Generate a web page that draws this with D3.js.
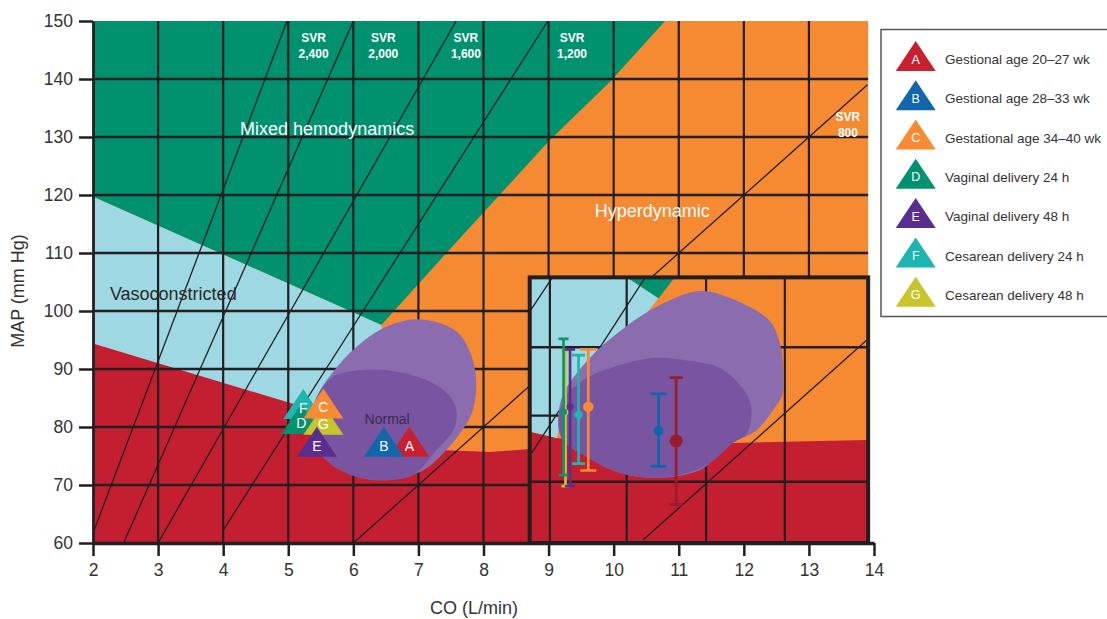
<!DOCTYPE html>
<html>
<head>
<meta charset="utf-8">
<script src="https://cdn.jsdelivr.net/npm/d3@7"></script>
<style>
  body { margin: 0; background: #fff; }
  svg { display: block; font-family: "Liberation Sans", Arial, Helvetica, sans-serif; }
</style>
</head>
<body>
<div id="grafico"></div>
<script>
// ejes
const coTicks = [2, 3, 4, 5, 6, 7, 8, 9, 10, 11, 12, 13, 14];
const mapTicks = [60, 70, 80, 90, 100, 110, 120, 130, 140, 150];
const gridCO = [3, 4, 5, 6, 7, 8, 9, 10, 11, 12, 13];
const gridMAP = [70, 80, 90, 100, 110, 120, 130, 140];
const plotRight = 13.91;

// grupos
const groupIds = ["A", "B", "C", "D", "E", "F", "G"];
const groupNames = [
    "Gestional age 20\u201327 wk",
    "Gestional age 28\u201333 wk",
    "Gestational age 34\u201340 wk",
    "Vaginal delivery 24 h",
    "Vaginal delivery 48 h",
    "Cesarean delivery 24 h",
    "Cesarean delivery 48 h"
];
const markerCO  = [6.86, 6.47, 5.54, 5.20, 5.44, 5.23, 5.54];
const markerMAP = [76.6, 76.6, 83.2, 80.5, 76.6, 83.1, 80.4];

// barras del recuadro
const barCO   = [10.96, 10.69, 9.61, 9.23, 9.33, 9.46, 9.26];
const barMean = [77.6, 79.3, 83.5, 82.6, 83.5, 82.1, 82.5];
const barLow  = [66.6, 73.2, 72.5, 71.7, 69.8, 73.7, 69.8];
const barHigh = [88.5, 85.7, 93.4, 95.2, 93.4, 92.4, 93.2];

// zonas
const greenZone = [[2, 150], [10.79, 150], [9.94, 139.5], [9.02, 129.5], [7.43, 110], [6.43, 97.6], [2, 119.7]];
const blueZone = [[2, 119.7], [6.43, 97.6], [6.6, 80], [2, 80]];
const redZone = [[2, 94.4], [7.43, 76.0], [8.1, 75.7], [8.71, 76.2], [8.71, 60], [2, 60]];

// lineas SVR
const svrLines = [[2.0, 61.7, 4.98, 150], [2.47, 60, 6.0, 150], [3.0, 60, 7.58, 150], [4.0, 62.2, 8.99, 150], [6.0, 60, 13.9, 139]];
const svrLabelText = ["2,400", "2,000", "1,600", "1,200", "800"];
const svrLabelCO = [5.39, 6.46, 7.73, 9.36, 13.6];
const svrLabelMAP = [147.0, 147.0, 147.0, 147.0, 133.5];

// zona normal
const normalOuter = [[7.02, 98.57], [7.59, 96.43], [7.82, 92.12], [7.89, 86.95], [7.82, 82.36], [7.64, 78.91], [7.43, 76.03], [7.08, 72.59], [6.56, 70.86], [6.05, 71.43], [5.64, 73.74], [5.39, 77.19], [5.33, 80.64], [5.44, 85.22], [5.69, 89.53], [6.05, 93.84], [6.51, 97.29]];
const normalInner = [[5.44, 85.22], [5.69, 88.67], [6.15, 89.83], [6.67, 89.53], [7.18, 87.81], [7.49, 85.22], [7.59, 82.36], [7.54, 79.48], [7.28, 76.03], [6.92, 71.72], [6.56, 70.86], [6.05, 71.43], [5.64, 73.74], [5.39, 77.19], [5.33, 80.64]];

// recuadro
const insetBox = [8.71, 13.91, 60, 105.8];
const insetBlue = [[8.71, 105.8], [10.20, 105.8], [10.69, 102.2], [9.18, 81.2], [9.13, 78.05], [8.71, 79.2]];
const insetGreen = [[10.20, 105.8], [10.94, 105.8], [10.69, 102.2]];
const insetRed = [[8.71, 79.2], [9.13, 78.05], [11.83, 77.24], [13.91, 77.76], [13.91, 60], [8.71, 60]];
const insetGridCO = [9.02, 10.20, 11.42, 12.63];
const insetGridMAP = [93.74, 70.57];
const insetShortMAP = [81.95];
const insetDiag = [[8.71, 99.9, 9.06, 105.8], [10.48, 105.7, 8.74, 75.5], [10.45, 60.5, 13.89, 95.0]];
const insetOuter = [[11.33, 103.45], [11.79, 102.24], [12.40, 98.28], [12.56, 94.14], [12.60, 90.69], [12.59, 85.52], [12.45, 82.93], [12.20, 79.48], [11.83, 77.24], [11.53, 74.31], [11.33, 72.59], [10.71, 71.21], [10.10, 72.07], [9.59, 74.83], [9.22, 77.76], [9.15, 81.21], [9.22, 85.52], [9.59, 91.38], [10.10, 96.55], [10.71, 101.03]];
const insetInner = [[9.15, 81.21], [9.28, 85.52], [9.59, 88.45], [10.10, 90.69], [10.60, 91.90], [11.17, 91.38], [11.63, 90.17], [11.94, 87.24], [12.11, 83.79], [12.05, 78.97], [11.83, 77.24], [11.48, 73.79], [11.17, 72.24], [10.71, 71.21], [10.10, 72.07], [9.59, 74.83], [9.22, 77.76]];

// estilos
const colores = {
    naranja: "#F68A33", verde: "#00926F", celeste: "#9ED8E2", rojo: "#C31F31",
    moradoClaro: "#8B6CAF", moradoOscuro: "#7955A1", linea: "#231F20"
};
const groupColors = ["#C8202F", "#1166AC", "#F68B33", "#00926F", "#5A2D90", "#1DB5B0", "#C8C52B"];
const barColors = ["#9A1B2C", "#0E67AD", "#F68B33", "#10926F", "#5A2D91", "#1DB6B0", "#C9C62C"];
const capHalf = [6.5, 8, 8, 5, 5, 6.5, 4];
const dotR = [6.5, 5, 5.3, 3.5, 3.5, 4.3, 3];

const ancho = 1107, alto = 619;
const x = d3.scaleLinear().domain([2, 14]).range([93, 874]);
const y = d3.scaleLinear().domain([60, 150]).range([543, 21]);

const $svg = d3.select("#grafico").append("svg")
    .attr("width", ancho).attr("height", alto);

const poly = d3.line().x(d => x(d[0])).y(d => y(d[1]));
const blob = d3.line().x(d => x(d[0])).y(d => y(d[1])).curve(d3.curveCatmullRomClosed.alpha(0.5));
const closed = pts => poly(pts) + "Z";

const triangulo = (cx, cy, w, h) =>
    `M${cx},${cy - 2 * h / 3}L${cx + w / 2},${cy + h / 3}L${cx - w / 2},${cy + h / 3}Z`;

// fondo principal
const fondo = $svg.append("g");
fondo.append("rect")
    .attr("x", x(2)).attr("y", y(150))
    .attr("width", x(plotRight) - x(2)).attr("height", y(60) - y(150))
    .attr("fill", colores.naranja);
fondo.append("path").attr("d", closed(greenZone)).attr("fill", colores.verde);
fondo.append("path").attr("d", closed(blueZone)).attr("fill", colores.celeste);
fondo.append("path").attr("d", closed(redZone)).attr("fill", colores.rojo);

// grilla
const grilla = $svg.append("g").attr("stroke", colores.linea);
grilla.selectAll(".v").data(gridCO).join("line")
    .attr("x1", d => x(d)).attr("x2", d => x(d))
    .attr("y1", y(60)).attr("y2", y(150))
    .attr("stroke-width", 2.2);
grilla.selectAll(".h").data(gridMAP).join("line")
    .attr("x1", x(2)).attr("x2", x(plotRight))
    .attr("y1", d => y(d)).attr("y2", d => y(d))
    .attr("stroke-width", 2.4);
grilla.selectAll(".svr").data(svrLines).join("line")
    .attr("x1", d => x(d[0])).attr("y1", d => y(d[1]))
    .attr("x2", d => x(d[2])).attr("y2", d => y(d[3]))
    .attr("stroke-width", 1.3);

// zona normal
$svg.append("path").attr("d", blob(normalOuter)).attr("fill", colores.moradoClaro);
$svg.append("path").attr("d", blob(normalInner)).attr("fill", colores.moradoOscuro);

$svg.append("text")
    .attr("x", x(6.52)).attr("y", y(81.4))
    .attr("text-anchor", "middle").attr("dominant-baseline", "central")
    .attr("font-size", 14).attr("fill", "#3a2a52")
    .text("Normal");

// triangulos (primero las formas, luego las letras)
const ordenTri = [0, 1, 5, 3, 6, 2, 4];
const tri = $svg.append("g");
ordenTri.forEach(i => {
    tri.append("path")
        .attr("d", triangulo(x(markerCO[i]), y(markerMAP[i]), 40, 30))
        .attr("fill", groupColors[i]);
});
ordenTri.forEach(i => {
    tri.append("text")
        .attr("x", x(markerCO[i])).attr("y", y(markerMAP[i]) - 1)
        .attr("text-anchor", "middle").attr("dominant-baseline", "central")
        .attr("font-size", 14).attr("fill", "#fff")
        .text(groupIds[i]);
});

// recuadro
$svg.append("clipPath").attr("id", "clipRecuadro")
    .append("rect")
    .attr("x", x(insetBox[0])).attr("y", y(insetBox[3]))
    .attr("width", x(insetBox[1]) - x(insetBox[0]))
    .attr("height", y(insetBox[2]) - y(insetBox[3]));

const recuadro = $svg.append("g").attr("clip-path", "url(#clipRecuadro)");
recuadro.append("rect")
    .attr("x", x(insetBox[0])).attr("y", y(insetBox[3]))
    .attr("width", x(insetBox[1]) - x(insetBox[0]))
    .attr("height", y(insetBox[2]) - y(insetBox[3]))
    .attr("fill", colores.naranja);
recuadro.append("path").attr("d", closed(insetBlue)).attr("fill", colores.celeste);
recuadro.append("path").attr("d", closed(insetGreen)).attr("fill", colores.verde);
recuadro.append("path").attr("d", closed(insetRed)).attr("fill", colores.rojo);

const gr = recuadro.append("g").attr("stroke", colores.linea);
gr.selectAll(".iv").data(insetGridCO).join("line")
    .attr("x1", d => x(d)).attr("x2", d => x(d))
    .attr("y1", y(insetBox[2])).attr("y2", y(insetBox[3]))
    .attr("stroke-width", 2.2);
gr.selectAll(".ih").data(insetGridMAP).join("line")
    .attr("x1", x(insetBox[0])).attr("x2", x(insetBox[1]))
    .attr("y1", d => y(d)).attr("y2", d => y(d))
    .attr("stroke-width", 2.4);
gr.selectAll(".is").data(insetShortMAP).join("line")
    .attr("x1", x(insetBox[0])).attr("x2", x(insetGridCO[1]))
    .attr("y1", d => y(d)).attr("y2", d => y(d))
    .attr("stroke-width", 2.2);
gr.selectAll(".id").data(insetDiag).join("line")
    .attr("x1", d => x(d[0])).attr("y1", d => y(d[1]))
    .attr("x2", d => x(d[2])).attr("y2", d => y(d[3]))
    .attr("stroke-width", 1.3);

recuadro.append("path").attr("d", blob(insetOuter)).attr("fill", colores.moradoClaro);
recuadro.append("path").attr("d", blob(insetInner)).attr("fill", colores.moradoOscuro);

// barras de error
const ordenBarras = [6, 3, 4, 5, 2, 1, 0];
ordenBarras.forEach(i => {
    const g = recuadro.append("g").attr("stroke", barColors[i]).attr("stroke-width", 2.7);
    const cx = x(barCO[i]);
    g.append("line").attr("x1", cx).attr("x2", cx).attr("y1", y(barLow[i])).attr("y2", y(barHigh[i]));
    [barLow[i], barHigh[i]].forEach(v => {
        g.append("line")
            .attr("x1", cx - capHalf[i]).attr("x2", cx + capHalf[i])
            .attr("y1", y(v)).attr("y2", y(v));
    });
    recuadro.append("circle")
        .attr("cx", cx).attr("cy", y(barMean[i])).attr("r", dotR[i])
        .attr("fill", barColors[i]);
});

$svg.append("rect")
    .attr("x", x(insetBox[0])).attr("y", y(insetBox[3]))
    .attr("width", x(insetBox[1]) - x(insetBox[0]))
    .attr("height", y(insetBox[2]) - y(insetBox[3]))
    .attr("fill", "none").attr("stroke", colores.linea).attr("stroke-width", 4);

// textos de zonas
const textos = $svg.append("g").attr("font-size", 18).attr("dominant-baseline", "central");
textos.append("text").attr("x", x(4.26)).attr("y", y(131.4)).attr("fill", "#fff").text("Mixed hemodynamics");
textos.append("text").attr("x", x(9.71)).attr("y", y(117.2)).attr("fill", "#fff").text("Hyperdynamic");
textos.append("text").attr("x", x(2.26)).attr("y", y(102.9)).attr("fill", "#2a2a2a").text("Vasoconstricted");

const etiquetasSvr = $svg.append("g")
    .attr("font-size", 12).attr("font-weight", "bold").attr("fill", "#fff")
    .attr("text-anchor", "middle").attr("dominant-baseline", "central");
svrLabelText.forEach((t, i) => {
    etiquetasSvr.append("text").attr("x", x(svrLabelCO[i])).attr("y", y(svrLabelMAP[i])).text("SVR");
    etiquetasSvr.append("text").attr("x", x(svrLabelCO[i])).attr("y", y(svrLabelMAP[i]) + 16).text(t);
});

// ejes
const ejeX = $svg.append("g").attr("transform", `translate(0,${y(60)})`)
    .call(d3.axisBottom(x).tickValues(coTicks).tickSize(13).tickSizeOuter(0).tickPadding(8));
ejeX.select(".domain").attr("stroke", colores.linea).attr("stroke-width", 3.5);
ejeX.selectAll(".tick line").attr("stroke", colores.linea).attr("stroke-width", 2.5);
ejeX.selectAll(".tick text").attr("font-size", 17.5).attr("fill", "#333")
    .attr("font-family", "\"Liberation Sans\", Arial, sans-serif");

const ejeY = $svg.append("g").attr("transform", `translate(${x(2)},0)`)
    .call(d3.axisLeft(y).tickValues(mapTicks).tickSize(14).tickSizeOuter(0).tickPadding(6));
ejeY.select(".domain").attr("stroke", colores.linea).attr("stroke-width", 2.8);
ejeY.selectAll(".tick line").attr("stroke", colores.linea).attr("stroke-width", 2.5);
ejeY.selectAll(".tick text").attr("font-size", 17.5).attr("fill", "#333")
    .attr("font-family", "\"Liberation Sans\", Arial, sans-serif");

$svg.append("text")
    .attr("x", 474).attr("y", 608)
    .attr("text-anchor", "middle").attr("dominant-baseline", "central")
    .attr("font-size", 18).attr("fill", "#333")
    .text("CO (L/min)");
$svg.append("text")
    .attr("transform", "translate(18,291) rotate(-90)")
    .attr("text-anchor", "middle").attr("dominant-baseline", "central")
    .attr("font-size", 18).attr("fill", "#333")
    .text("MAP (mm Hg)");

// leyenda
const leyenda = $svg.append("g");
leyenda.append("rect")
    .attr("x", 881).attr("y", 29.5).attr("width", 240).attr("height", 287)
    .attr("fill", "#fff").attr("stroke", "#555").attr("stroke-width", 1.5);
groupIds.forEach((id, i) => {
    const fy = 59.5 + i * 39.3;
    leyenda.append("path").attr("d", triangulo(915.7, fy + 1.4, 40, 30)).attr("fill", groupColors[i]);
    leyenda.append("text")
        .attr("x", 915.7).attr("y", fy)
        .attr("text-anchor", "middle").attr("dominant-baseline", "central")
        .attr("font-size", 12.5).attr("fill", "#fff")
        .text(id);
    leyenda.append("text")
        .attr("x", 945).attr("y", fy)
        .attr("dominant-baseline", "central")
        .attr("font-size", 13.5).attr("fill", "#333")
        .text(groupNames[i]);
});
</script>
</body>
</html>
